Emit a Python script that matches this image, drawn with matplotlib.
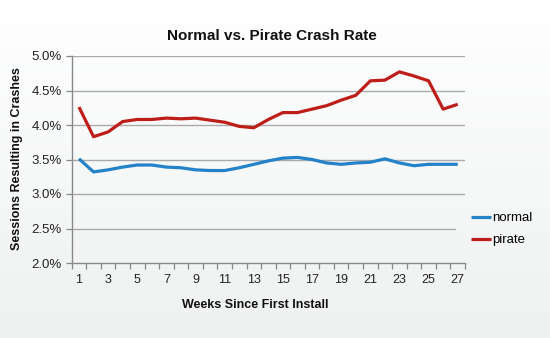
import numpy as np
import matplotlib
matplotlib.use("Agg")
import matplotlib.pyplot as plt
from matplotlib.ticker import FixedLocator, FuncFormatter

weeks = list(range(1, 28))
normal = [3.51, 3.32, 3.35, 3.39, 3.42, 3.42, 3.39, 3.38, 3.35, 3.34, 3.34, 3.38, 3.43,
          3.48, 3.52, 3.53, 3.50, 3.45, 3.43, 3.45, 3.46, 3.51, 3.45, 3.41, 3.43, 3.43, 3.43]
pirate = [4.26, 3.83, 3.90, 4.05, 4.08, 4.08, 4.10, 4.09, 4.10, 4.07, 4.04, 3.98, 3.96,
          4.08, 4.18, 4.18, 4.23, 4.28, 4.36, 4.43, 4.64, 4.65, 4.77, 4.71, 4.64, 4.23, 4.30]
yticks = [2.0, 2.5, 3.0, 3.5, 4.0, 4.5, 5.0]
xlabels_at = list(range(1, 28, 2))

plt.rcParams['font.family'] = ['Liberation Sans', 'DejaVu Sans']

W, H = 550, 338
fig = plt.figure(figsize=(W / 100, H / 100), dpi=100)

# background gradient
bg = fig.add_axes([0, 0, 1, 1], zorder=-10)
grad = np.linspace(0, 1, 256).reshape(-1, 1)
top = np.array([1.0, 1.0, 1.0])
bot = np.array([239, 241, 241]) / 255
img = top[None, None, :] * (1 - grad[:, :, None]) + bot[None, None, :] * grad[:, :, None]
bg.imshow(img, aspect='auto', extent=[0, 1, 0, 1])
bg.axis('off')

l, r, t, b = 71.7, 465, 56, 263
ax = fig.add_axes([l / W, 1 - b / H, (r - l) / W, (b - t) / H])
ax.patch.set_alpha(0)

blue = '#2382c8'
red = '#be1e19'
ax.plot(weeks, normal, color=blue, lw=2.3, label='normal', solid_capstyle='butt', zorder=3)
ax.plot(weeks, pirate, color=red, lw=2.3, label='pirate', solid_capstyle='butt', zorder=3)

ax.set_xlim(0.5, 27.5)
ax.set_ylim(2.0, 5.0)
ax.yaxis.set_major_locator(FixedLocator(yticks))
ax.yaxis.set_major_formatter(FuncFormatter(lambda v, p: f"{v:.1f}%"))
legend_cut = (455 - l) / (r - l)
for yv in yticks[1:]:
    ax.axhline(yv, xmin=0, xmax=legend_cut if yv == 2.5 else 1,
               color='#aaaaaa', lw=1.0, zorder=1)

ax.xaxis.set_major_locator(FixedLocator(xlabels_at))
ax.xaxis.set_minor_locator(FixedLocator([w + 0.5 for w in range(0, 28)]))
ax.tick_params(axis='x', which='major', length=0, pad=8, labelsize=9, colors='#222222')
ax.tick_params(axis='x', which='minor', length=4, width=0.9, color='#888888', direction='out')
ax.tick_params(axis='y', which='major', length=4, width=0.9, color='#888888', labelsize=9.5,
               labelcolor='#222222', pad=3)

for s in ['top', 'right']:
    ax.spines[s].set_visible(False)
for s in ['left', 'bottom']:
    ax.spines[s].set_color('#888888')
    ax.spines[s].set_linewidth(1.0)

fig.text(272 / W, 1 - 36 / H, 'Normal vs. Pirate Crash Rate', ha='center', va='center',
         fontsize=11, fontweight='bold', color='#111111')
fig.text(255 / W, 1 - 305 / H, 'Weeks Since First Install', ha='center', va='center',
         fontsize=9, fontweight='bold', color='#111111')
fig.text(17 / W, 1 - 159 / H, 'Sessions Resulting in Crashes', ha='center', va='center',
         rotation=90, fontsize=9, fontweight='bold', color='#111111')

leg = fig.legend(loc='upper left', bbox_to_anchor=(467 / W, 1 - 208 / H), frameon=False,
                 fontsize=9.5, handlelength=1.5, handletextpad=0.1, labelspacing=0.75,
                 borderpad=0.3, borderaxespad=0)
for h in leg.get_lines():
    h.set_linewidth(2.3)

fig.savefig('out.png', dpi=100)
